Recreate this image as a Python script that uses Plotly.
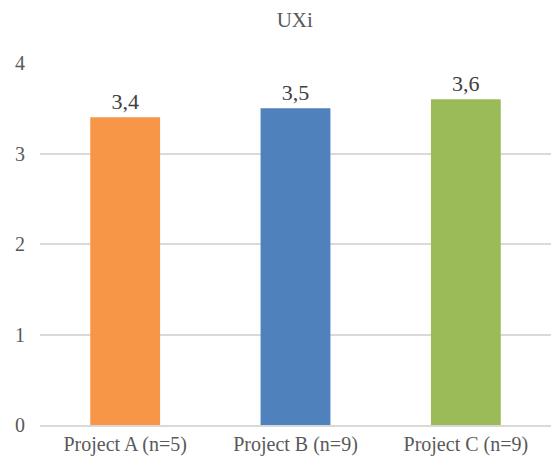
import plotly.graph_objects as go

categories = ["Project A (n=5)", "Project B (n=9)", "Project C (n=9)"]
values = [3.4, 3.5, 3.6]
labels = ["3,4", "3,5", "3,6"]
colors = ["#F79646", "#4F81BD", "#9BBB59"]
title = "UXi"

font_family = "Liberation Serif, Times New Roman, serif"
gray = "#595959"

fig = go.Figure(go.Bar(
    x=categories, y=values, text=labels, textposition="outside",
    marker=dict(color=colors, line=dict(width=0)),
    textfont=dict(family=font_family, size=22, color="#404040"),
    cliponaxis=False,
))

fig.update_layout(
    width=551, height=468,
    margin=dict(l=40, r=0, t=63, b=43),
    paper_bgcolor="white", plot_bgcolor="white",
    title=dict(text=title, x=0.535, xanchor="center", y=0.957, yanchor="middle",
               font=dict(family=font_family, size=21, color=gray)),
    bargap=0.59,
    showlegend=False,
    font=dict(family=font_family, color=gray),
)
fig.update_xaxes(
    showgrid=False, showline=True, linecolor="#D9D9D9", linewidth=1.5,
    tickfont=dict(family=font_family, size=20, color=gray),
    ticks="", ticklabelstandoff=0,
)
fig.update_yaxes(
    range=[0, 4], dtick=1, showgrid=True, gridcolor="#D9D9D9", gridwidth=1.5,
    zeroline=False, showline=False,
    tickfont=dict(family=font_family, size=20, color=gray),
    ticks="", ticklabelstandoff=14,
)

fig.write_html("out.html", config={"displayModeBar": False},
               post_script="document.body.style.margin='0';document.body.style.overflow='hidden';")
